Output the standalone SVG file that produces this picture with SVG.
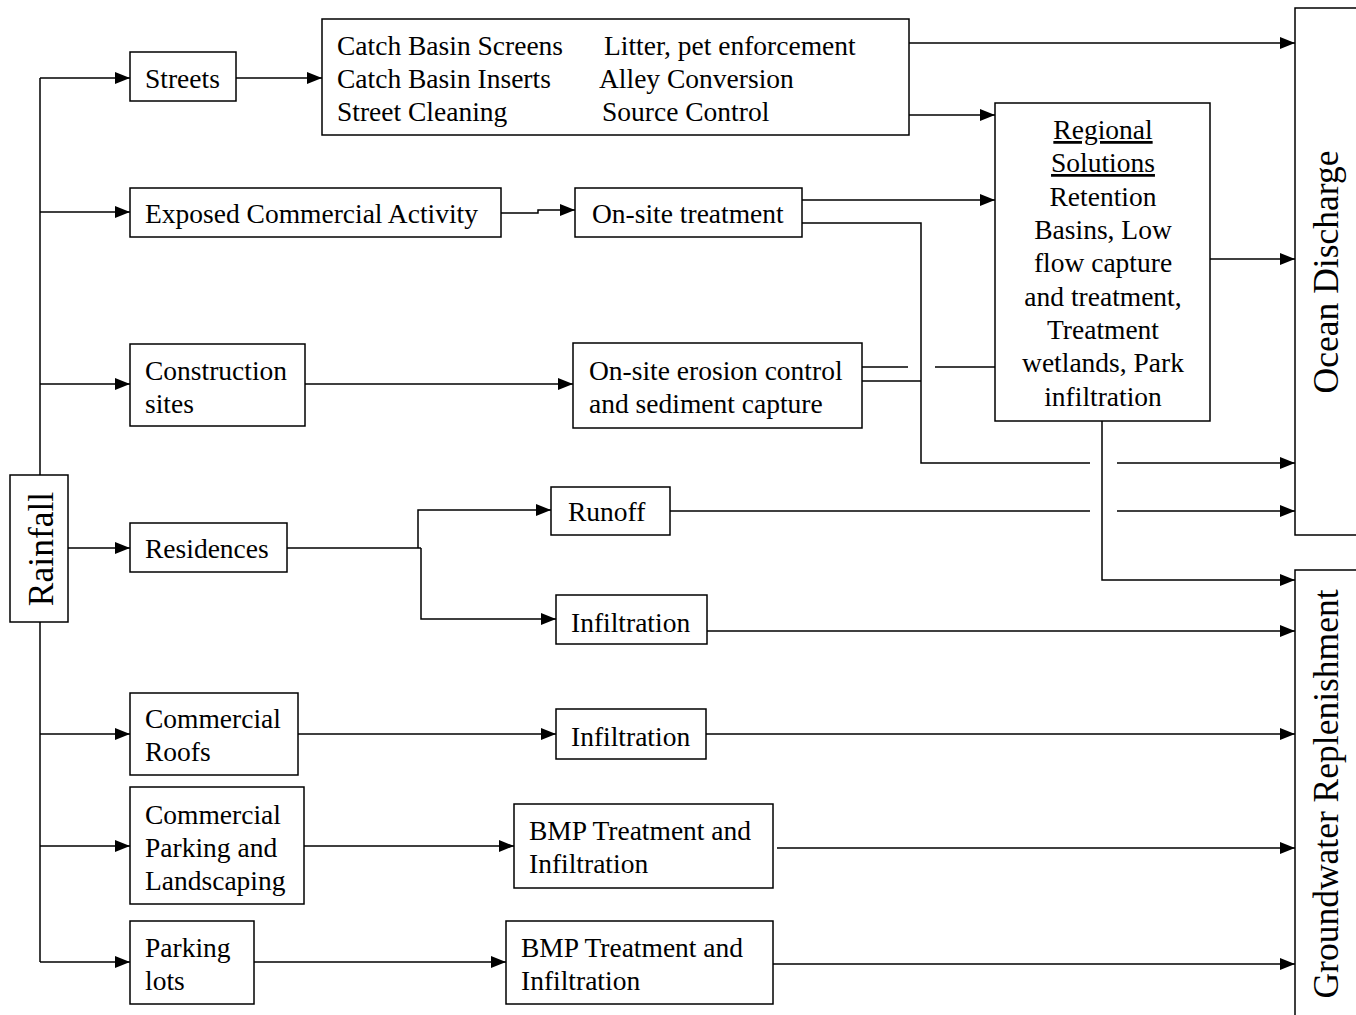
<svg xmlns="http://www.w3.org/2000/svg" width="1356" height="1015" viewBox="0 0 1356 1015">
<style>
.box{fill:#fff;stroke:#000;stroke-width:1.5}
.t{font-family:"Liberation Serif","Times New Roman",serif;font-size:27.5px;fill:#000}
.c{text-anchor:middle}
.big{font-size:35.5px}
.ln{fill:none;stroke:#000;stroke-width:1.5}
.ar{marker-end:url(#ah)}
</style>
<defs>
<marker id="ah" markerUnits="userSpaceOnUse" markerWidth="15" markerHeight="12" refX="15" refY="6" orient="auto">
<path d="M0,0 L15,6 L0,12 z" fill="#000"/>
</marker>
</defs>
<rect width="1356" height="1015" fill="#fff"/>
<g id="connectors">
<path class="ln" d="M40,78 V962"/>
<path class="ln ar" d="M40,78 H130"/>
<path class="ln ar" d="M40,212 H130"/>
<path class="ln ar" d="M40,384 H130"/>
<path class="ln ar" d="M68,548 H130"/>
<path class="ln ar" d="M40,734 H130"/>
<path class="ln ar" d="M40,846 H130"/>
<path class="ln ar" d="M40,962 H130"/>
<path class="ln ar" d="M236,78 H322"/>
<path class="ln ar" d="M909,43 H1295"/>
<path class="ln ar" d="M909,115 H995"/>
<path class="ln ar" d="M1210,259 H1295"/>
<path class="ln ar" d="M1102,415 V580 H1295"/>
<path class="ln ar" d="M501,213 H538 V210 H575"/>
<path class="ln ar" d="M802,200 H995"/>
<path class="ln" d="M802,223 H921 V463 H1090"/>
<path class="ln ar" d="M1117,463 H1295"/>
<path class="ln ar" d="M305,384 H573"/>
<path class="ln" d="M862,367 H908"/>
<path class="ln" d="M935,367 H995"/>
<path class="ln" d="M860,381 H921"/>
<path class="ln" d="M287,548 H421"/>
<path class="ln ar" d="M418,548 V510 H551"/>
<path class="ln ar" d="M421,548 V619 H556"/>
<path class="ln" d="M670,511 H1090"/>
<path class="ln ar" d="M1117,511 H1295"/>
<path class="ln ar" d="M707,631 H1295"/>
<path class="ln ar" d="M298,734 H556"/>
<path class="ln ar" d="M706,734 H1295"/>
<path class="ln ar" d="M304,846 H514"/>
<path class="ln ar" d="M777,848 H1295"/>
<path class="ln ar" d="M254,962 H506"/>
<path class="ln ar" d="M770,964 H1295"/>
</g>
<g id="rainfall">
<rect class="box" x="10" y="475" width="58" height="147"/>
<text class="t c big" transform="translate(53,549) rotate(-90)">Rainfall</text>
</g>
<g id="streets">
<rect class="box" x="130" y="52" width="106" height="49"/>
<text class="t" x="145" y="88">Streets</text>
</g>
<g id="street-measures">
<rect class="box" x="322" y="19" width="587" height="116"/>
<text class="t" x="337" y="55">Catch Basin Screens</text>
<text class="t" x="337" y="88">Catch Basin Inserts</text>
<text class="t" x="337" y="121">Street Cleaning</text>
<text class="t" x="604" y="55">Litter, pet enforcement</text>
<text class="t" x="599" y="88">Alley Conversion</text>
<text class="t" x="602" y="121">Source Control</text>
</g>
<g id="exposed-commercial">
<rect class="box" x="130" y="188" width="371" height="49"/>
<text class="t" x="145" y="223">Exposed Commercial Activity</text>
</g>
<g id="onsite-treatment">
<rect class="box" x="575" y="188" width="227" height="49"/>
<text class="t" x="592" y="223">On-site treatment</text>
</g>
<g id="regional">
<rect class="box" x="995" y="103" width="215" height="318"/>
<text class="t c" x="1103" y="139" text-decoration="underline">Regional</text>
<text class="t c" x="1103" y="172" text-decoration="underline">Solutions</text>
<text class="t c" x="1103" y="206">Retention</text>
<text class="t c" x="1103" y="239">Basins, Low</text>
<text class="t c" x="1103" y="272">flow capture</text>
<text class="t c" x="1103" y="306">and treatment,</text>
<text class="t c" x="1103" y="339">Treatment</text>
<text class="t c" x="1103" y="372">wetlands, Park</text>
<text class="t c" x="1103" y="406">infiltration</text>
</g>
<g id="construction">
<rect class="box" x="130" y="344" width="175" height="82"/>
<text class="t" x="145" y="380">Construction</text>
<text class="t" x="145" y="413">sites</text>
</g>
<g id="erosion">
<rect class="box" x="573" y="343" width="289" height="85"/>
<text class="t" x="589" y="380">On-site erosion control</text>
<text class="t" x="589" y="413">and sediment capture</text>
</g>
<g id="residences">
<rect class="box" x="130" y="523" width="157" height="49"/>
<text class="t" x="145" y="558">Residences</text>
</g>
<g id="runoff">
<rect class="box" x="551" y="487" width="119" height="48"/>
<text class="t" x="568" y="521">Runoff</text>
</g>
<g id="infiltration-res">
<rect class="box" x="556" y="595" width="151" height="49"/>
<text class="t" x="571" y="632">Infiltration</text>
</g>
<g id="commercial-roofs">
<rect class="box" x="130" y="693" width="168" height="82"/>
<text class="t" x="145" y="728">Commercial</text>
<text class="t" x="145" y="761">Roofs</text>
</g>
<g id="infiltration-roofs">
<rect class="box" x="556" y="709" width="150" height="50"/>
<text class="t" x="571" y="746">Infiltration</text>
</g>
<g id="commercial-parking">
<rect class="box" x="130" y="787" width="174" height="117"/>
<text class="t" x="145" y="824">Commercial</text>
<text class="t" x="145" y="857">Parking and</text>
<text class="t" x="145" y="890">Landscaping</text>
</g>
<g id="bmp-1">
<rect class="box" x="514" y="804" width="259" height="84"/>
<text class="t" x="529" y="840">BMP Treatment and</text>
<text class="t" x="529" y="873">Infiltration</text>
</g>
<g id="parking-lots">
<rect class="box" x="130" y="921" width="124" height="83"/>
<text class="t" x="145" y="957">Parking</text>
<text class="t" x="145" y="990">lots</text>
</g>
<g id="bmp-2">
<rect class="box" x="506" y="921" width="267" height="83"/>
<text class="t" x="521" y="957">BMP Treatment and</text>
<text class="t" x="521" y="990">Infiltration</text>
</g>
<g id="ocean">
<rect class="box" x="1295" y="8" width="80" height="527"/>
<text class="t c big" transform="translate(1338,272) rotate(-90)">Ocean Discharge</text>
</g>
<g id="groundwater">
<rect class="box" x="1295" y="570" width="80" height="460"/>
<text class="t c big" transform="translate(1338,794) rotate(-90)">Groundwater Replenishment</text>
</g>
</svg>
